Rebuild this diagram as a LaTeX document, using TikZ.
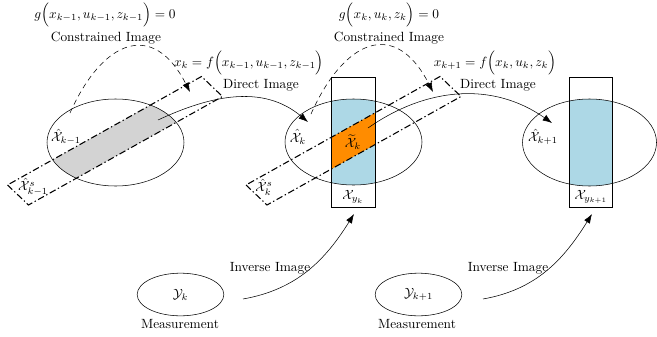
\documentclass[tikz,border=0pt]{standalone}
\usepackage{amsmath, amssymb}
\usepackage{tikz}
\usetikzlibrary{arrows.meta, shapes.geometric}
\definecolor{setgray}{RGB}{211,211,211}
\definecolor{setblue}{RGB}{173,216,230}
\definecolor{setorange}{RGB}{255,140,0}
\tikzset{
    >={Latex[length=7pt,width=5pt]},
    every node/.style={inner sep=1pt},
    stripline/.style={dash pattern=on 5pt off 2pt on 1pt off 2pt, thick},
    conline/.style={->, dash pattern=on 4pt off 3pt},
    dirline/.style={->},
    measset/.style={draw, ellipse, minimum width=65pt, minimum height=32pt, inner sep=0pt},
}
% regions
\def\ellA{(115.5,-142.5) ellipse (68.5 and 43.5)}
\def\ellB{(353.5,-142) ellipse (68.5 and 43)}
\def\ellC{(589.5,-142.5) ellipse (67 and 43.5)}
\def\rectB{(331.7,-77.3) rectangle (375,-207)}
\def\rectC{(569.3,-77.3) rectangle (612.7,-207)}
\def\stripA{(7.5,-185) -- (28.5,-205) -- (222.5,-96.5) -- (201.5,-76.5) -- cycle}
\def\stripB{(246,-185) -- (267,-205) -- (461,-96.5) -- (440,-76.5) -- cycle}

\begin{document}
\begin{tikzpicture}[x=0.75pt, y=0.75pt]
    \useasboundingbox (0,0) rectangle (657,-336);
    % fills
    \begin{scope}
        \clip \ellA;
        \fill[setgray] \stripA;
    \end{scope}
    \begin{scope}
        \clip \ellB;
        \fill[setblue] \rectB;
    \end{scope}
    \begin{scope}
        \clip \ellB;
        \clip \rectB;
        \fill[setorange] \stripB;
    \end{scope}
    \begin{scope}
        \clip \ellC;
        \fill[setblue] \rectC;
    \end{scope}
    % outlines
    \draw \ellA;
    \draw \ellB;
    \draw \ellC;
    \draw[semithick] \rectB;
    \draw[semithick] \rectC;
    \draw[stripline] \stripA;
    \draw[stripline] \stripB;

    \node (hatA) at (66,-137) {$\hat{\mathcal{X}}_{k-1}$};
    \node (hatsA) at (33,-187) {$\hat{\mathcal{X}}^{s}_{k-1}$};
    \node (hatB) at (298,-137) {$\hat{\mathcal{X}}_{k}$};
    \node (hatsB) at (264,-187) {$\hat{\mathcal{X}}^{s}_{k}$};
    \node (tilB) at (353,-142) {$\widetilde{\mathcal{X}}_{k}$};
    \node (ymB) at (353,-197) {$\mathcal{X}_{y_k}$};
    \node (hatC) at (543,-137) {$\hat{\mathcal{X}}_{k+1}$};
    \node (ymC) at (591,-197) {$\mathcal{X}_{y_{k+1}}$};

    \node (gA) at (105,-15) {$g\Big(x_{k-1},u_{k-1},z_{k-1}\Big)=0$};
    \node (conA) at (106,-38) {Constrained Image};
    \node (fA) at (249,-63) {$x_k=f\Big(x_{k-1},u_{k-1},z_{k-1}\Big)$};
    \node (dirA) at (261,-85) {Direct Image};
    \node (gB) at (389,-15) {$g\Big(x_{k},u_{k},z_{k}\Big)=0$};
    \node (conB) at (389,-38) {Constrained Image};
    \node (fB) at (495,-63) {$x_{k+1}=f\Big(x_{k},u_{k},z_{k}\Big)$};
    \node (dirB) at (498,-85) {Direct Image};

    \node[measset] (yA) at (180.5,-294.5) {$\mathcal{Y}_k$};
    \node (measA) at (180,-324) {Measurement};
    \node (invA) at (270,-268) {Inverse Image};
    \node[measset] (yB) at (418.5,-294.5) {$\mathcal{Y}_{k+1}$};
    \node (measB) at (417,-324) {Measurement};
    \node (invB) at (508,-268) {Inverse Image};

    % arrow ends
    \coordinate (conAs) at (70,-113);
    \coordinate (conAe) at (190,-92);
    \coordinate (conBs) at (311,-114);
    \coordinate (conBe) at (433,-92);
    \coordinate (dirAs) at (158,-120);
    \coordinate (dirAe) at (308,-122);
    \coordinate (dirBs) at (368,-128);
    \coordinate (dirBe) at (552,-123);
    \coordinate (invAs) at (243,-299);
    \coordinate (invAe) at (354,-214);
    \coordinate (invBs) at (483,-299);
    \coordinate (invBe) at (592,-214);

    \draw[conline] (conAs) to[out=66, in=117, looseness=1.7] (conAe);
    \draw[conline] (conBs) to[out=66, in=117, looseness=1.7] (conBe);
    \draw[dirline] (dirAs) to[out=25, in=140] (dirAe);
    \draw[dirline] (dirBs) to[out=35, in=145] (dirBe);
    \draw[dirline] (invAs) to[out=10, in=-122] (invAe);
    \draw[dirline] (invBs) to[out=10, in=-122] (invBe);
\end{tikzpicture}
\end{document}
